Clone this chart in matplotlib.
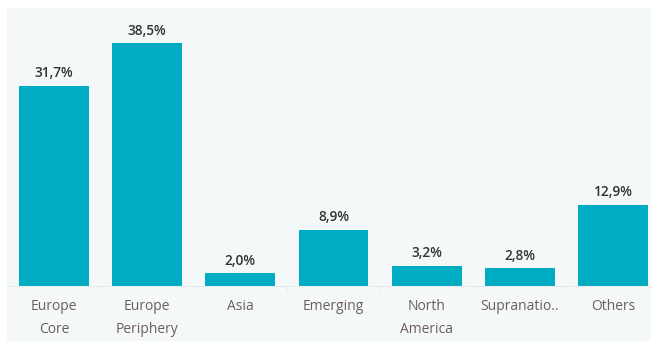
import matplotlib.pyplot as plt
from matplotlib.patches import Rectangle
import numpy as np

# regional breakdown of the portfolio
regions = ['Europe\nCore', 'Europe\nPeriphery', 'Asia', 'Emerging',
           'North\nAmerica', 'Supranatio..', 'Others']
weights = [31.7, 38.5, 2.0, 8.9, 3.2, 2.8, 12.9]
labels = ['31,7%', '38,5%', '2,0%', '8,9%', '3,2%', '2,8%', '12,9%']

W, H = 651, 351
fig = plt.figure(figsize=(W / 100, H / 100), dpi=100)
fig.patch.set_facecolor('white')

# light panel behind the chart
fig.patches.append(Rectangle((7 / W, 1 - 341 / H), 1, (341 - 8) / H,
                             transform=fig.transFigure, facecolor='#f4f8f9',
                             edgecolor='none', zorder=-10))

step = 93.17
ymax = 40
px_per_unit = 6.31
ax = fig.add_axes([7.4 / W, (H - 286) / H, 7 * step / W, ymax * px_per_unit / H])
ax.patch.set_alpha(0)

x = np.arange(len(regions))
ax.bar(x, weights, width=0.75, color='#00acc1', zorder=2)

for xi, v, lab in zip(x, weights, labels):
    ax.annotate(lab, (xi, v), xytext=(0, 4), textcoords='offset points',
                ha='center', va='bottom', fontsize=9.8, color='#333333',
                family='Open Sans', fontweight='semibold')

ax.set_xlim(-0.5, 6.5)
ax.set_ylim(0, ymax)
ax.set_xticks(x)
ax.set_xticklabels(regions, fontsize=10, color='#6b5f58', family='Open Sans',
                   linespacing=1.75)
ax.tick_params(axis='x', length=0, pad=9)
ax.set_xticks(x[:-1] + 0.5, minor=True)
ax.tick_params(axis='x', which='minor', length=3, color='#e3e8ea')
ax.set_yticks([])
for side in ['top', 'right', 'left']:
    ax.spines[side].set_visible(False)
ax.spines['bottom'].set_color('#e6ebec')
ax.spines['bottom'].set_linewidth(0.8)

fig.savefig('out.png', dpi=100)
